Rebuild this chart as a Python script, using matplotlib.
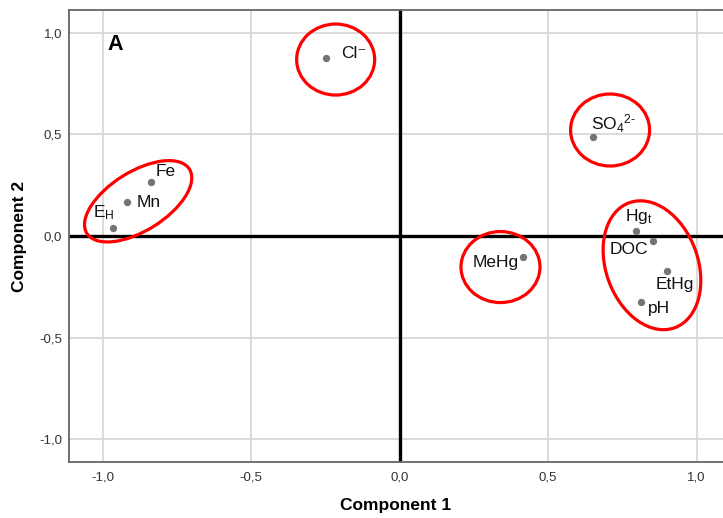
import matplotlib
matplotlib.use("Agg")
import matplotlib.pyplot as plt
from matplotlib.patches import Ellipse
from matplotlib.transforms import ScaledTranslation

plt.rcParams['font.family'] = ['Liberation Sans', 'DejaVu Sans']
plt.rcParams['mathtext.default'] = 'regular'

# Component loadings
variables = ["Cl\u207b", "SO$_4$$^{2\u2010}$", "Fe", "Mn", "E$_H$", "MeHg",
             "Hg$_t$", "DOC", "EtHg", "pH"]
comp1 = [-0.248, 0.651, -0.836, -0.917, -0.965, 0.417, 0.797, 0.854, 0.901, 0.814]
comp2 = [0.878, 0.486, 0.266, 0.167, 0.039, -0.103, 0.026, -0.025, -0.174, -0.325]

# Label offsets (pixels) and alignment for each variable
label_offsets = [(15, 4, 'left'), (-2, 14, 'left'), (4, 10, 'left'), (9, 0, 'left'),
                 (2, 15, 'right'), (-5, -6, 'right'), (-11, 14, 'left'),
                 (-5, -8, 'right'), (-11, -13, 'left'), (7, -7, 'left')]

# Cluster outlines: centre (data), width/height (inches), angle (deg)
clusters = [(-0.215, 0.869, 0.78, 0.71, 0),
            (0.709, 0.522, 0.79, 0.72, 0),
            (-0.880, 0.171, 1.21, 0.59, 32),
            (0.340, -0.153, 0.79, 0.71, 0),
            (0.850, -0.144, 0.92, 1.33, 20)]

fig = plt.figure(figsize=(7.23, 5.18), dpi=100)
ax = fig.add_axes([69 / 723, 56 / 518, 1 - 69 / 723, 452 / 518])

ax.set_xlim(-1.1128, 1.0892)
ax.set_ylim(-1.113, 1.113)

ax.set_xticks([-1.0, -0.5, 0.0, 0.5, 1.0])
ax.set_yticks([-1.0, -0.5, 0.0, 0.5, 1.0])
ax.set_xticklabels(["-1,0", "-0,5", "0,0", "0,5", "1,0"])
ax.set_yticklabels(["-1,0", "-0,5", "0,0", "0,5", "1,0"])
ax.tick_params(length=0, labelsize=9.5, labelcolor='#333333')
ax.tick_params(axis='y', pad=5)
ax.tick_params(axis='x', pad=7)

ax.grid(True, color='#d8d8d8', linewidth=1.3)
ax.set_axisbelow(True)
for side in ['left', 'bottom', 'top']:
    ax.spines[side].set_color('#666666')
    ax.spines[side].set_linewidth(1.3)
ax.spines['right'].set_visible(False)

ax.axhline(0, color='black', linewidth=2.4, zorder=2)
ax.axvline(0, color='black', linewidth=2.4, zorder=2)

ax.scatter(comp1, comp2, s=28, color='#747474', zorder=4, linewidths=0)

for name, x, y, (dx, dy, ha) in zip(variables, comp1, comp2, label_offsets):
    ax.annotate(name, (x, y), xytext=(dx, dy), textcoords='offset pixels',
                ha=ha, va='center', fontsize=12.5, color='#111111', zorder=5)

for cx, cy, w, h, ang in clusters:
    tr = fig.dpi_scale_trans + ScaledTranslation(cx, cy, ax.transData)
    ax.add_patch(Ellipse((0, 0), w, h, angle=ang, transform=tr,
                         fill=False, edgecolor='#ff0000', linewidth=2.3, zorder=6))

ax.text(0.059, 0.923, "A", transform=ax.transAxes, fontsize=15.5,
        fontweight='bold', va='center', ha='left')

ax.set_xlabel("Component 1", fontsize=12.5, fontweight='bold', labelpad=10)
ax.set_ylabel("Component 2", fontsize=12.5, fontweight='bold', labelpad=9)

fig.savefig("out.png", dpi=100)
